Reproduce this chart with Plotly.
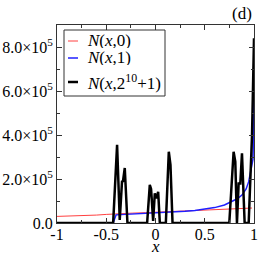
import plotly.graph_objects as go

# ---- data ----
red_x = [-1.0, -0.9, -0.8, -0.7, -0.6, -0.5, -0.4, -0.3, -0.23, -0.1, 0.0, 0.1, 0.2, 0.3, 0.4, 0.5, 0.6, 0.72, 0.8, 0.9, 0.98]
red_y = [3.0e4, 3.1e4, 3.3e4, 3.4e4, 3.6e4, 3.9e4, 4.0e4, 4.3e4, 4.5e4, 4.7e4, 4.9e4, 5.1e4, 5.3e4, 5.5e4, 5.7e4, 5.9e4, 6.2e4, 6.5e4, 6.6e4, 6.7e4, 6.8e4]

blue_x = [-1.0, -0.43, -0.40, -0.3, -0.2, -0.1, 0.0, 0.1, 0.2, 0.3, 0.4, 0.5, 0.6, 0.7, 0.776, 0.83, 0.878, 0.92, 0.946, 0.973, 0.99, 0.997, 1.0]
blue_y = [0.0, 0.0, 3.7e4, 3.9e4, 4.0e4, 4.2e4, 4.4e4, 4.6e4, 4.9e4, 5.3e4, 5.7e4, 6.3e4, 7.0e4, 8.2e4, 9.7e4, 1.1e5, 1.27e5, 1.55e5, 1.88e5, 2.5e5, 2.9e5, 4.5e5, 6.0e5]

black_x = [-1.0, -0.43, -0.39, -0.363, -0.34, -0.33, -0.312, -0.285,
           -0.085, -0.058, -0.045, -0.024, -0.007, 0.01, 0.027, 0.044,
           0.105, 0.135, 0.152, 0.173,
           0.749, 0.793, 0.81, 0.827, 0.844, 0.861, 0.878, 0.905,
           0.946, 0.965, 0.98, 0.99, 1.0]
black_y = [0.0, 0.0, 3.55e5, 1.4e4, 1.88e5, 1.9e5, 2.5e5, 0.0,
           0.0, 1.73e5, 1.55e5, 1.0e4, 1.35e5, 1.12e5, 1.42e5, 0.0,
           0.0, 3.24e5, 2.64e5, 0.0,
           0.0, 3.24e5, 2.79e5, 0.0, 1.8e5, 1.8e5, 3.17e5, 0.0,
           0.0, 2.0e5, 4.0e5, 6.2e5, 8.4e5]

series_names = ["<i>N</i>(<i>x</i>,0)", "<i>N</i>(<i>x</i>,1)", "<i>N</i>(<i>x</i>,2<sup>10</sup>+1)"]
series_colors = ["#ff4040", "#1f1fff", "#000000"]
series_widths = [1, 1.5, 2.5]

x_tickvals = [-1, -0.5, 0, 0.5, 1]
x_ticktext = ["-1", "-0.5", "0", "0.5", "1"]
x_minor = [-0.75, -0.25, 0.25, 0.75]
y_tickvals = [0, 2e5, 4e5, 6e5, 8e5]
y_ticktext = ["0.0", "2.0×10<sup>5</sup>", "4.0×10<sup>5</sup>", "6.0×10<sup>5</sup>", "8.0×10<sup>5</sup>"]
y_minor = [1e5, 3e5, 5e5, 7e5]

FONT = "Liberation Serif, Times New Roman, serif"

fig = go.Figure()
for xs, ys, name, col, w in zip([red_x, blue_x, black_x], [red_y, blue_y, black_y],
                                series_names, series_colors, series_widths):
    fig.add_trace(go.Scatter(x=xs, y=ys, mode="lines", name=name,
                             line=dict(color=col, width=w), showlegend=False))

fig.update_layout(
    width=266, height=266,
    margin=dict(l=57, r=12, t=25, b=43, autoexpand=False),
    paper_bgcolor="white", plot_bgcolor="white",
    font=dict(family=FONT, size=16, color="black"),
)
fig.update_xaxes(range=[-1, 1], tickmode="array", tickvals=x_tickvals, ticktext=x_ticktext,
                 ticks="inside", ticklen=5, tickcolor="#333", showgrid=False, zeroline=False,
                 showline=True, linecolor="#333", linewidth=1, mirror="ticks", automargin=False,
                 ticklabelstandoff=-3,
                 minor=dict(tickvals=x_minor, ticks="inside", ticklen=3, tickcolor="#333", showgrid=False))
fig.update_yaxes(range=[0, 9.0e5], tickmode="array", tickvals=y_tickvals, ticktext=y_ticktext,
                 ticks="inside", ticklen=5, tickcolor="#333", showgrid=False, zeroline=False,
                 showline=True, linecolor="#333", linewidth=1, mirror="ticks", automargin=False,
                 ticklabelstandoff=0,
                 minor=dict(tickvals=y_minor, ticks="inside", ticklen=3, tickcolor="#333", showgrid=False))

# manual legend / labels in pixel-based paper coords
def px_x(p):
    return (p - 57) / 197.0
def px_y(p):
    return (223 - p) / 198.0

fig.add_annotation(xref="paper", yref="paper", x=px_x(155.7), y=px_y(246),
                   xanchor="center", yanchor="middle", text="<i>x</i>", showarrow=False,
                   font=dict(size=17, family=FONT))

fig.add_shape(type="rect", xref="paper", yref="paper",
              x0=px_x(64), x1=px_x(165), y0=px_y(96), y1=px_y(30),
              line=dict(color="#333", width=1), fillcolor="white", layer="above")
rows = [41, 58, 82]
heights = [15, 15, 22]
for name, col, w, r, h in zip(series_names, series_colors, series_widths, rows, heights):
    fig.add_shape(type="line", xref="paper", yref="paper",
                  x0=px_x(68), x1=px_x(78), y0=px_y(r), y1=px_y(r),
                  line=dict(color=col, width=w), layer="above")
    fig.add_annotation(xref="paper", yref="paper", x=px_x(85), y=px_y(r),
                       xanchor="left", yanchor="middle", text=name, showarrow=False,
                       height=h, font=dict(size=17, family=FONT))

fig.add_annotation(xref="paper", yref="paper", x=px_x(254), y=px_y(14),
                   xanchor="right", yanchor="middle", text="(d)", showarrow=False,
                   font=dict(size=17, family=FONT))

fig.write_html("out.html", config={"displayModeBar": False},
               post_script="document.body.style.margin='0';")
